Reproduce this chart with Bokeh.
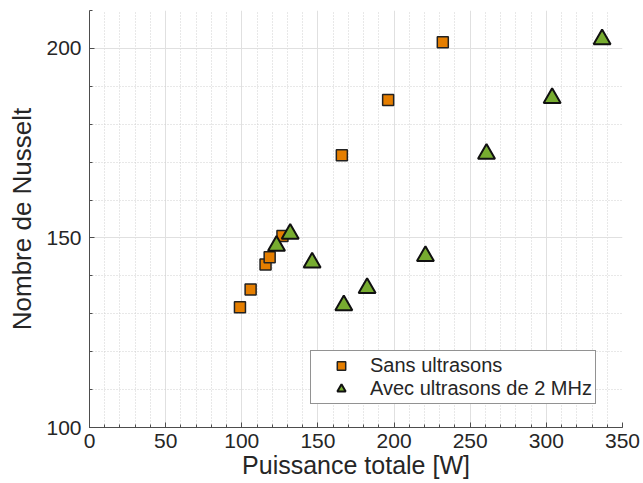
from bokeh.plotting import figure
from bokeh.models import SingleIntervalTicker, Legend, LegendItem, Range1d
from bokeh.embed import file_html
from bokeh.resources import INLINE

# Data
sans_power = [98.8, 105.8, 115.6, 118.3, 126.7, 165.7, 196.1, 232.0]
sans_nu = [131.7, 136.4, 143.0, 144.9, 150.5, 171.8, 186.4, 201.6]
avec_power = [122.8, 131.8, 146.2, 167.0, 182.3, 220.6, 260.7, 303.8, 336.6]
avec_nu = [147.9, 151.1, 143.5, 132.2, 136.8, 145.2, 172.2, 186.9, 202.4]
x_ticks = [0, 50, 100, 150, 200, 250, 300, 350]
y_ticks = [100, 150, 200]
labels = ["Sans ultrasons", "Avec ultrasons de 2 MHz"]

FONT = "Liberation Sans"
TXT = "#262626"

p = figure(frame_width=533, frame_height=417,
           min_border_left=89, min_border_right=21, min_border_top=10, min_border_bottom=56,
           x_range=Range1d(0, 350), y_range=Range1d(100, 210),
           output_backend="svg", toolbar_location=None,
           background_fill_color="white", border_fill_color="white")
p.outline_line_color = None

p.xaxis.ticker = SingleIntervalTicker(interval=50, num_minor_ticks=5)
p.yaxis.ticker = SingleIntervalTicker(interval=50, num_minor_ticks=5)

for ax in (p.xaxis[0], p.yaxis[0]):
    ax.axis_line_color = "#4d4d4d"
    ax.major_tick_line_color = "#4d4d4d"
    ax.minor_tick_line_color = "#4d4d4d"
    ax.major_tick_in = 5
    ax.major_tick_out = 0
    ax.minor_tick_in = 3
    ax.minor_tick_out = 0
    ax.major_label_text_font = FONT
    ax.major_label_text_font_size = "21px"
    ax.major_label_text_color = TXT
    ax.axis_label_text_font = FONT
    ax.axis_label_text_font_style = "normal"
    ax.axis_label_text_color = TXT

p.xaxis.axis_label = "Puissance totale [W]"
p.yaxis.axis_label = "Nombre de Nusselt"
p.xaxis.axis_label_text_font_size = "25px"
p.yaxis.axis_label_text_font_size = "26px"
p.xaxis.major_label_standoff = 6
p.yaxis.major_label_standoff = 8
p.xaxis.axis_label_standoff = 0
p.yaxis.axis_label_standoff = 6

for g in (p.xgrid[0], p.ygrid[0]):
    g.grid_line_color = "#e0e0e0"
    g.grid_line_width = 1
    g.minor_grid_line_color = "#d0d0d0"
    g.minor_grid_line_dash = "1 2"
    g.minor_grid_line_width = 1

r1 = p.scatter(sans_power, sans_nu, marker="square", size=11,
               fill_color="#E57E00", line_color="#222222", line_width=1.5)
r2 = p.scatter(avec_power, avec_nu, marker="triangle", size=17,
               fill_color="#77AC30", line_color="#111111", line_width=2)

legend = Legend(items=[LegendItem(label=labels[0], renderers=[r1]),
                       LegendItem(label=labels[1], renderers=[r2])],
                location=(221, 23), orientation="vertical",
                padding=3, margin=0, spacing=0,
                glyph_width=54, glyph_height=21, label_height=21, label_standoff=2,
                label_text_font=FONT, label_text_font_size="20px", label_text_color=TXT,
                border_line_color="#262626", border_line_width=1,
                background_fill_color="white", background_fill_alpha=1)
p.add_layout(legend)

open("out.html", "w").write(file_html(p, INLINE))
